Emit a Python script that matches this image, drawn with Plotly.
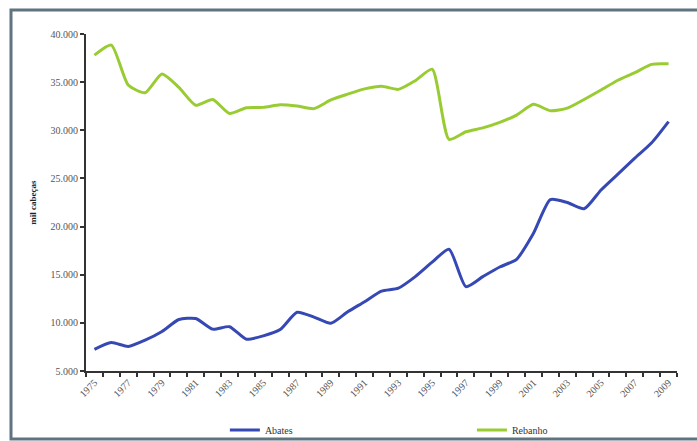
import plotly.graph_objects as go

years = list(range(1975, 2010))
abates = [7250, 7950, 7550, 8200, 9100, 10350, 10450, 9350, 9600, 8300,
          8650, 9300, 11100, 10600, 9950, 11150, 12200, 13300, 13600, 14800,
          16300, 17650, 13760, 14800, 15800, 16600, 19300, 22800, 22500, 21850,
          23800, 25450, 27100, 28700, 30900]
rebanho = [37800, 38850, 34700, 33900, 35850, 34450, 32600, 33200, 31750, 32350,
           32380, 32650, 32520, 32250, 33150, 33750, 34300, 34580, 34250, 35150,
           36350, 29060, 29850, 30250, 30820, 31580, 32700, 32030, 32300, 33200,
           34180, 35200, 35980, 36850, 36900]
y_ticks = [5000, 10000, 15000, 20000, 25000, 30000, 35000, 40000]
y_tick_text = ["5.000", "10.000", "15.000", "20.000", "25.000", "30.000", "35.000", "40.000"]
x_label_years = list(range(1975, 2010, 2))

fig = go.Figure()
fig.add_trace(go.Scatter(x=years, y=abates, name="Abates", mode="lines", legend="legend",
                         line=dict(color="#3548b4", width=3, shape="spline", smoothing=0.6)))
fig.add_trace(go.Scatter(x=years, y=rebanho, name="Rebanho", mode="lines", legend="legend2",
                         line=dict(color="#99cc33", width=3, shape="spline", smoothing=0.6)))

serif = "Liberation Serif, Times New Roman, serif"
leg_common = dict(orientation="h", yanchor="middle", y=-0.175, xanchor="left",
                  itemwidth=30, bgcolor="rgba(0,0,0,0)", borderwidth=0,
                  font=dict(family=serif, size=10, color="#333333"))
fig.update_layout(
    width=697, height=441,
    margin=dict(l=86, r=20, t=34, b=70, autoexpand=False),
    paper_bgcolor="white", plot_bgcolor="white",
    font=dict(family=serif, size=10, color="#555555"),
    showlegend=True,
    legend=dict(x=0.235, **leg_common),
    legend2=dict(x=0.653, **leg_common),
    xaxis=dict(range=[1974.5, 2009.5], tickmode="array", tickvals=x_label_years,
               ticktext=[str(v) for v in x_label_years], tickangle=-45,
               ticks="", showgrid=False, zeroline=False,
               showline=True, linecolor="#333333", linewidth=2,
               tickfont=dict(family=serif, size=10, color="#555555"),
               minor=dict(tickmode="array", tickvals=[y + 0.5 for y in range(1974, 2010)],
                          ticks="outside", ticklen=4, tickcolor="#333333", tickwidth=2,
                          showgrid=False)),
    yaxis=dict(range=[5000, 40000], tickmode="array", tickvals=y_ticks, ticktext=y_tick_text,
               ticks="outside", ticklen=4, tickcolor="#333333", tickwidth=2,
               showgrid=False, zeroline=False, showline=True, linecolor="#333333", linewidth=2,
               tickfont=dict(family=serif, size=10, color="#555555"),
               title=dict(text="<b>mil cabeças</b>", font=dict(family=serif, size=9, color="#222222"),
                          standoff=12)),
)
fx0, fx1 = -75 / 591, 1.25
fy0, fy1 = -68 / 337, 1 + 24 / 337
fig.add_shape(type="path", xref="paper", yref="paper",
              path=f"M {fx1},{fy1} L {fx0},{fy1} L {fx0},{fy0} L {fx1},{fy0}",
              line=dict(color="#5f7480", width=3), fillcolor="rgba(0,0,0,0)", layer="below")

fig.write_html("out.html", config={"displayModeBar": False},
               post_script=("document.body.style.margin='0';"
                            "document.body.style.overflow='hidden';"
                            "document.documentElement.style.overflow='hidden';"))
